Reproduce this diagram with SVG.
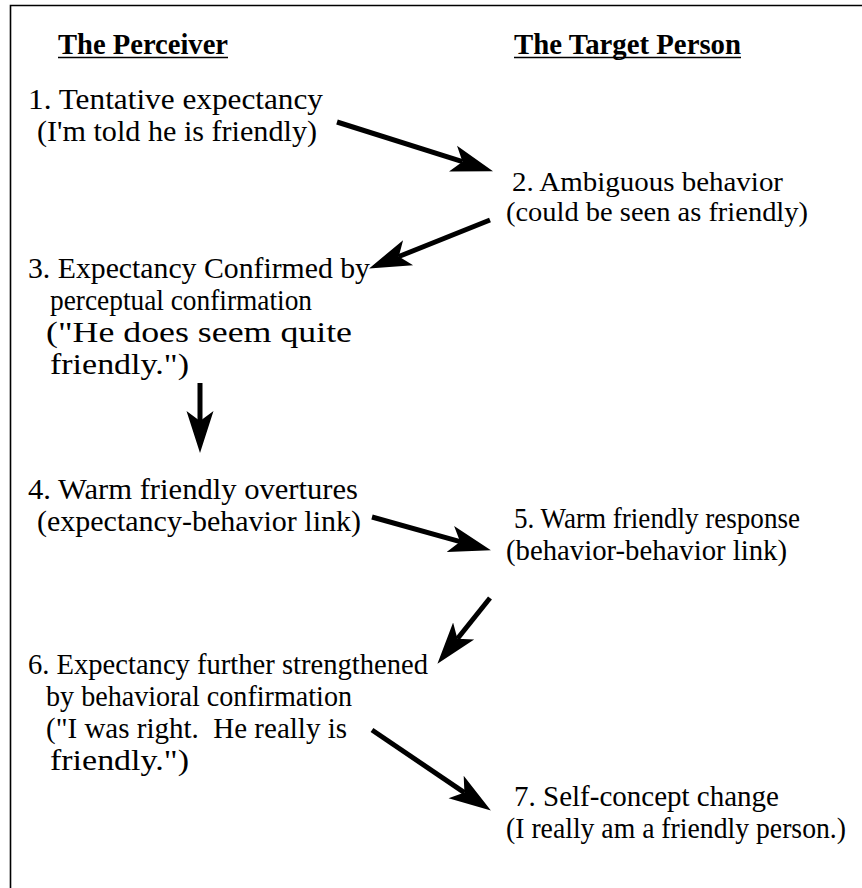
<svg xmlns="http://www.w3.org/2000/svg" width="862" height="888" viewBox="0 0 862 888">
<defs>
<marker id="ah" markerUnits="userSpaceOnUse" viewBox="0 0 42 30" markerWidth="42" markerHeight="30" refX="10" refY="15" orient="auto">
<path d="M0,1.5 L42,15 L0,28.5 L10,15 z" fill="#000"/>
</marker>
<style>
.h{font-family:"Liberation Serif","Times New Roman",serif;font-weight:bold;font-size:30px;fill:#000}
.t{font-family:"Liberation Serif","Times New Roman",serif;font-size:28.5px;fill:#000}
.s{font-size:27px}
.ul{stroke:#000;stroke-width:1.6}
.c{stroke:#000;stroke-width:5;fill:none;marker-end:url(#ah)}
</style>
</defs>
<rect x="0" y="0" width="862" height="888" fill="#fff"/>
<path d="M10.5,900 V5.5 H870" fill="none" stroke="#000" stroke-width="1.6"/>
<g id="header-perceiver">
<text class="h" x="58" y="54" textLength="170" lengthAdjust="spacingAndGlyphs">The Perceiver</text>
<line class="ul" x1="58" y1="57.5" x2="228" y2="57.5"/>
</g>
<g id="header-target">
<text class="h" x="514" y="54" textLength="227" lengthAdjust="spacingAndGlyphs">The Target Person</text>
<line class="ul" x1="514" y1="57.5" x2="741" y2="57.5"/>
</g>
<g id="node1">
<text class="t" x="28" y="109" textLength="295" lengthAdjust="spacingAndGlyphs">1. Tentative expectancy</text>
<text class="t" x="37" y="141" textLength="280" lengthAdjust="spacingAndGlyphs">(I'm told he is friendly)</text>
</g>
<g id="node2">
<text class="t s" x="512" y="191" textLength="271" lengthAdjust="spacingAndGlyphs">2. Ambiguous behavior</text>
<text class="t s" x="506" y="221" textLength="302" lengthAdjust="spacingAndGlyphs">(could be seen as friendly)</text>
</g>
<g id="node3">
<text class="t" x="28" y="278" textLength="342" lengthAdjust="spacingAndGlyphs">3. Expectancy Confirmed by</text>
<text class="t" x="50" y="310" textLength="262" lengthAdjust="spacingAndGlyphs">perceptual confirmation</text>
<text class="t" x="46" y="342" textLength="306" lengthAdjust="spacingAndGlyphs">("He does seem quite</text>
<text class="t" x="50" y="374" textLength="139" lengthAdjust="spacingAndGlyphs">friendly.")</text>
</g>
<g id="node4">
<text class="t" x="28" y="499" textLength="330" lengthAdjust="spacingAndGlyphs">4. Warm friendly overtures</text>
<text class="t" x="37" y="531" textLength="324" lengthAdjust="spacingAndGlyphs">(expectancy-behavior link)</text>
</g>
<g id="node5">
<text class="t" x="514" y="528" textLength="286" lengthAdjust="spacingAndGlyphs">5. Warm friendly response</text>
<text class="t" x="506" y="560" textLength="281" lengthAdjust="spacingAndGlyphs">(behavior-behavior link)</text>
</g>
<g id="node6">
<text class="t" x="28" y="674" textLength="400" lengthAdjust="spacingAndGlyphs">6. Expectancy further strengthened</text>
<text class="t" x="46" y="706" textLength="306" lengthAdjust="spacingAndGlyphs">by behavioral confirmation</text>
<text class="t" x="46" y="738" textLength="301" lengthAdjust="spacingAndGlyphs" xml:space="preserve">("I was right.  He really is</text>
<text class="t" x="50" y="770" textLength="139" lengthAdjust="spacingAndGlyphs">friendly.")</text>
</g>
<g id="node7">
<text class="t" x="514" y="806" textLength="265" lengthAdjust="spacingAndGlyphs">7. Self-concept change</text>
<text class="t" x="506" y="838" textLength="340" lengthAdjust="spacingAndGlyphs">(I really am a friendly person.)</text>
</g>
<g id="connectors">
<line class="c" x1="337" y1="122" x2="462.5" y2="161.7"/>
<line class="c" x1="490" y1="220" x2="398.8" y2="256.5"/>
<line class="c" x1="200" y1="383" x2="200" y2="421"/>
<line class="c" x1="372" y1="517" x2="460.1" y2="541.7"/>
<line class="c" x1="490" y1="598" x2="457.4" y2="638.8"/>
<line class="c" x1="372" y1="730" x2="464.4" y2="792.6"/>
</g>
</svg>
